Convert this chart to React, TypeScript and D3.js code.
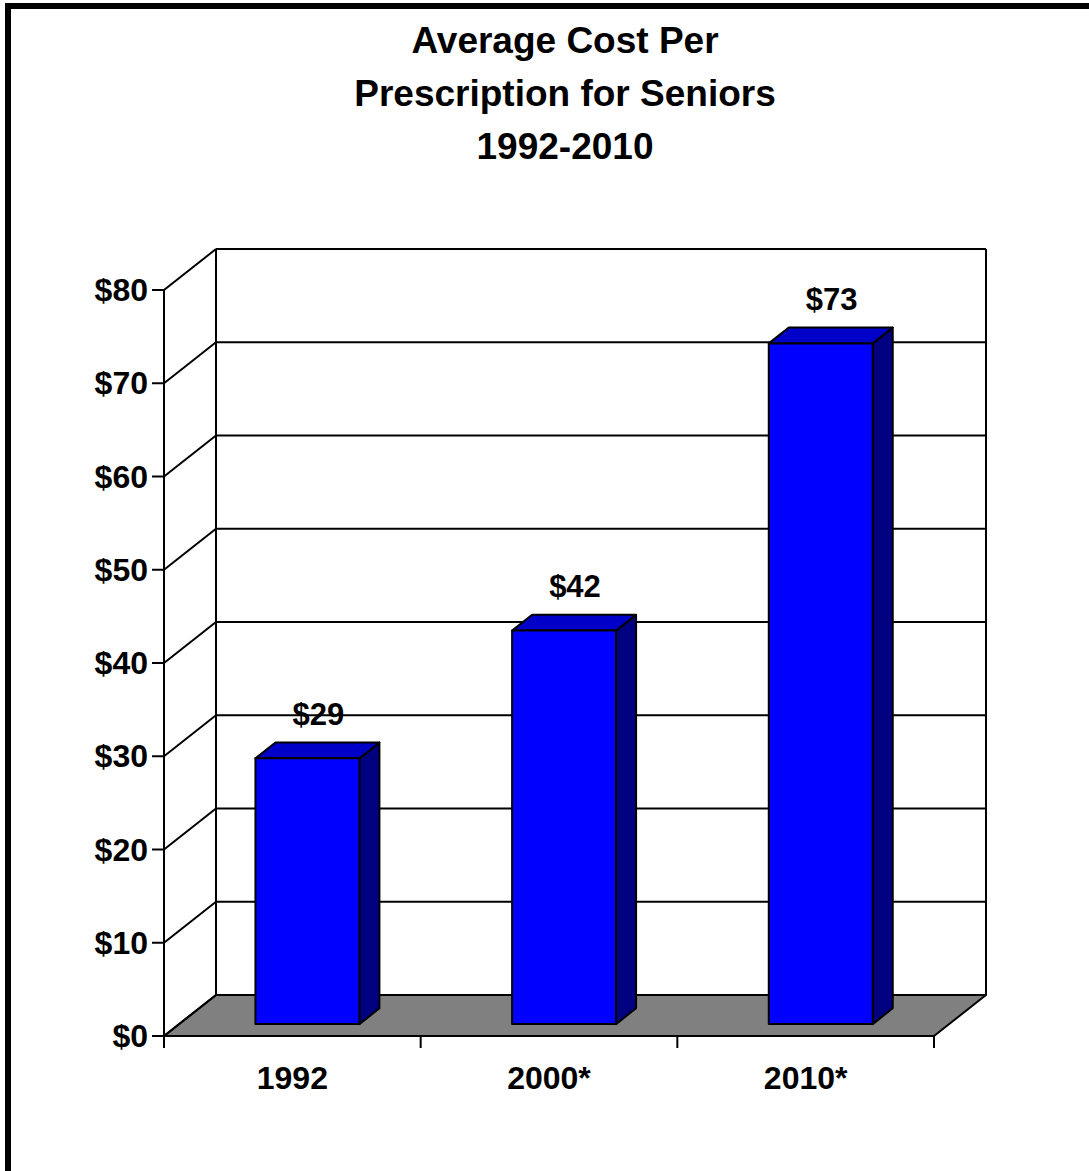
import React from "react";
import * as d3 from "d3";

const categories = ["1992", "2000*", "2010*"];
const values = [28.5, 42.2, 73];
const valueLabels = ["$29", "$42", "$73"];
const yTicks = [0, 10, 20, 30, 40, 50, 60, 70, 80];
const titleLines = ["Average Cost Per", "Prescription for Seniors", "1992-2010"];

const W = 1089;
const H = 1171;
const DX = 52;
const DY = 41;
const Z0 = 0.29;
const Z1 = 0.675;
const FONT = "'Liberation Sans', Arial, Helvetica, sans-serif";

export default function App() {
  const x = d3
    .scaleBand<string>()
    .domain(categories)
    .range([164, 934])
    .paddingInner(0.595)
    .paddingOuter(0.2975);
  const y = d3.scaleLinear().domain([0, 80]).range([1036, 290]);
  const px = (wx: number, z: number) => wx + z * DX;
  const py = (wy: number, z: number) => wy - z * DY;
  const pt = (wx: number, wy: number, z: number) => `${px(wx, z)},${py(wy, z)}`;

  const x0 = 164;
  const x1 = 934;
  const step = x.step();
  const sw = 2;

  return (
    <svg
      width={W}
      height={H}
      style={{ position: "absolute", left: 0, top: 0, background: "#fff" }}
      fontFamily={FONT}
    >
      <rect x={0} y={0} width={W} height={H} fill="#fff" />
      {/* floor */}
      <polygon
        points={[pt(x0, y(0), 0), pt(x1, y(0), 0), pt(x1, y(0), 1), pt(x0, y(0), 1)].join(" ")}
        fill="#808080"
        stroke="#000"
        strokeWidth={sw}
        strokeLinejoin="round"
      />
      {/* gridlines back wall + side wall */}
      {yTicks.map((t) => (
        <g key={t}>
          {t > 0 && (
            <line x1={px(x0, 1)} x2={px(x1, 1)} y1={py(y(t), 1)} y2={py(y(t), 1)} stroke="#000" strokeWidth={sw} />
          )}
          <line x1={px(x0, 0)} x2={px(x0, 1)} y1={py(y(t), 0)} y2={py(y(t), 1)} stroke="#000" strokeWidth={sw} />
          <line x1={x0 - 12} x2={x0} y1={y(t)} y2={y(t)} stroke="#000" strokeWidth={sw} />
          <text
            x={148}
            y={y(t) + 11}
            textAnchor="end"
            fontSize={32}
            fontWeight="bold"
          >
            {"$" + t}
          </text>
        </g>
      ))}
      {/* back wall verticals */}
      <line x1={px(x0, 1)} x2={px(x0, 1)} y1={py(y(80), 1)} y2={py(y(0), 1)} stroke="#000" strokeWidth={sw} />
      <line x1={px(x1, 1)} x2={px(x1, 1)} y1={py(y(80), 1)} y2={py(y(0), 1)} stroke="#000" strokeWidth={sw} />
      {/* front axis */}
      <line x1={x0} x2={x0} y1={y(80)} y2={y(0)} stroke="#000" strokeWidth={sw} />
      <line x1={x0} x2={x1} y1={y(0)} y2={y(0)} stroke="#000" strokeWidth={sw} />
      {d3.range(categories.length + 1).map((i) => (
        <line
          key={i}
          x1={x0 + i * step}
          x2={x0 + i * step}
          y1={y(0)}
          y2={y(0) + 12}
          stroke="#000"
          strokeWidth={sw}
        />
      ))}
      {/* bars */}
      {categories.map((c, i) => {
        const bx = x(c) as number;
        const bw = x.bandwidth();
        const vt = y(values[i]);
        const vb = y(0);
        return (
          <g key={c} stroke="#000" strokeWidth={sw} strokeLinejoin="round">
            <polygon
              points={[pt(bx + bw, vt, Z0), pt(bx + bw, vt, Z1), pt(bx + bw, vb, Z1), pt(bx + bw, vb, Z0)].join(" ")}
              fill="#000080"
            />
            <polygon
              points={[pt(bx, vt, Z0), pt(bx + bw, vt, Z0), pt(bx + bw, vt, Z1), pt(bx, vt, Z1)].join(" ")}
              fill="#0000C8"
            />
            <polygon
              points={[pt(bx, vt, Z0), pt(bx + bw, vt, Z0), pt(bx + bw, vb, Z0), pt(bx, vb, Z0)].join(" ")}
              fill="#0000FF"
            />
          </g>
        );
      })}
      {/* value labels */}
      {categories.map((c, i) => {
        const cx = (x(c) as number) + x.bandwidth() / 2;
        return (
          <text
            key={c}
            x={px(cx, 0.5)}
            y={py(y(values[i]), 0.5) - 25}
            textAnchor="middle"
            fontSize={31}
            fontWeight="bold"
          >
            {valueLabels[i]}
          </text>
        );
      })}
      {/* category labels */}
      {categories.map((c) => (
        <text
          key={c}
          x={(x(c) as number) + x.bandwidth() / 2}
          y={1089}
          textAnchor="middle"
          fontSize={32}
          fontWeight="bold"
        >
          {c}
        </text>
      ))}
      {/* title */}
      {titleLines.map((l, i) => (
        <text key={i} x={565} y={53 + i * 53} textAnchor="middle" fontSize={37} fontWeight="bold">
          {l}
        </text>
      ))}
      {/* outer border */}
      <rect x={8} y={6} width={W + 10} height={H} fill="none" stroke="#000" strokeWidth={6} />
    </svg>
  );
}
